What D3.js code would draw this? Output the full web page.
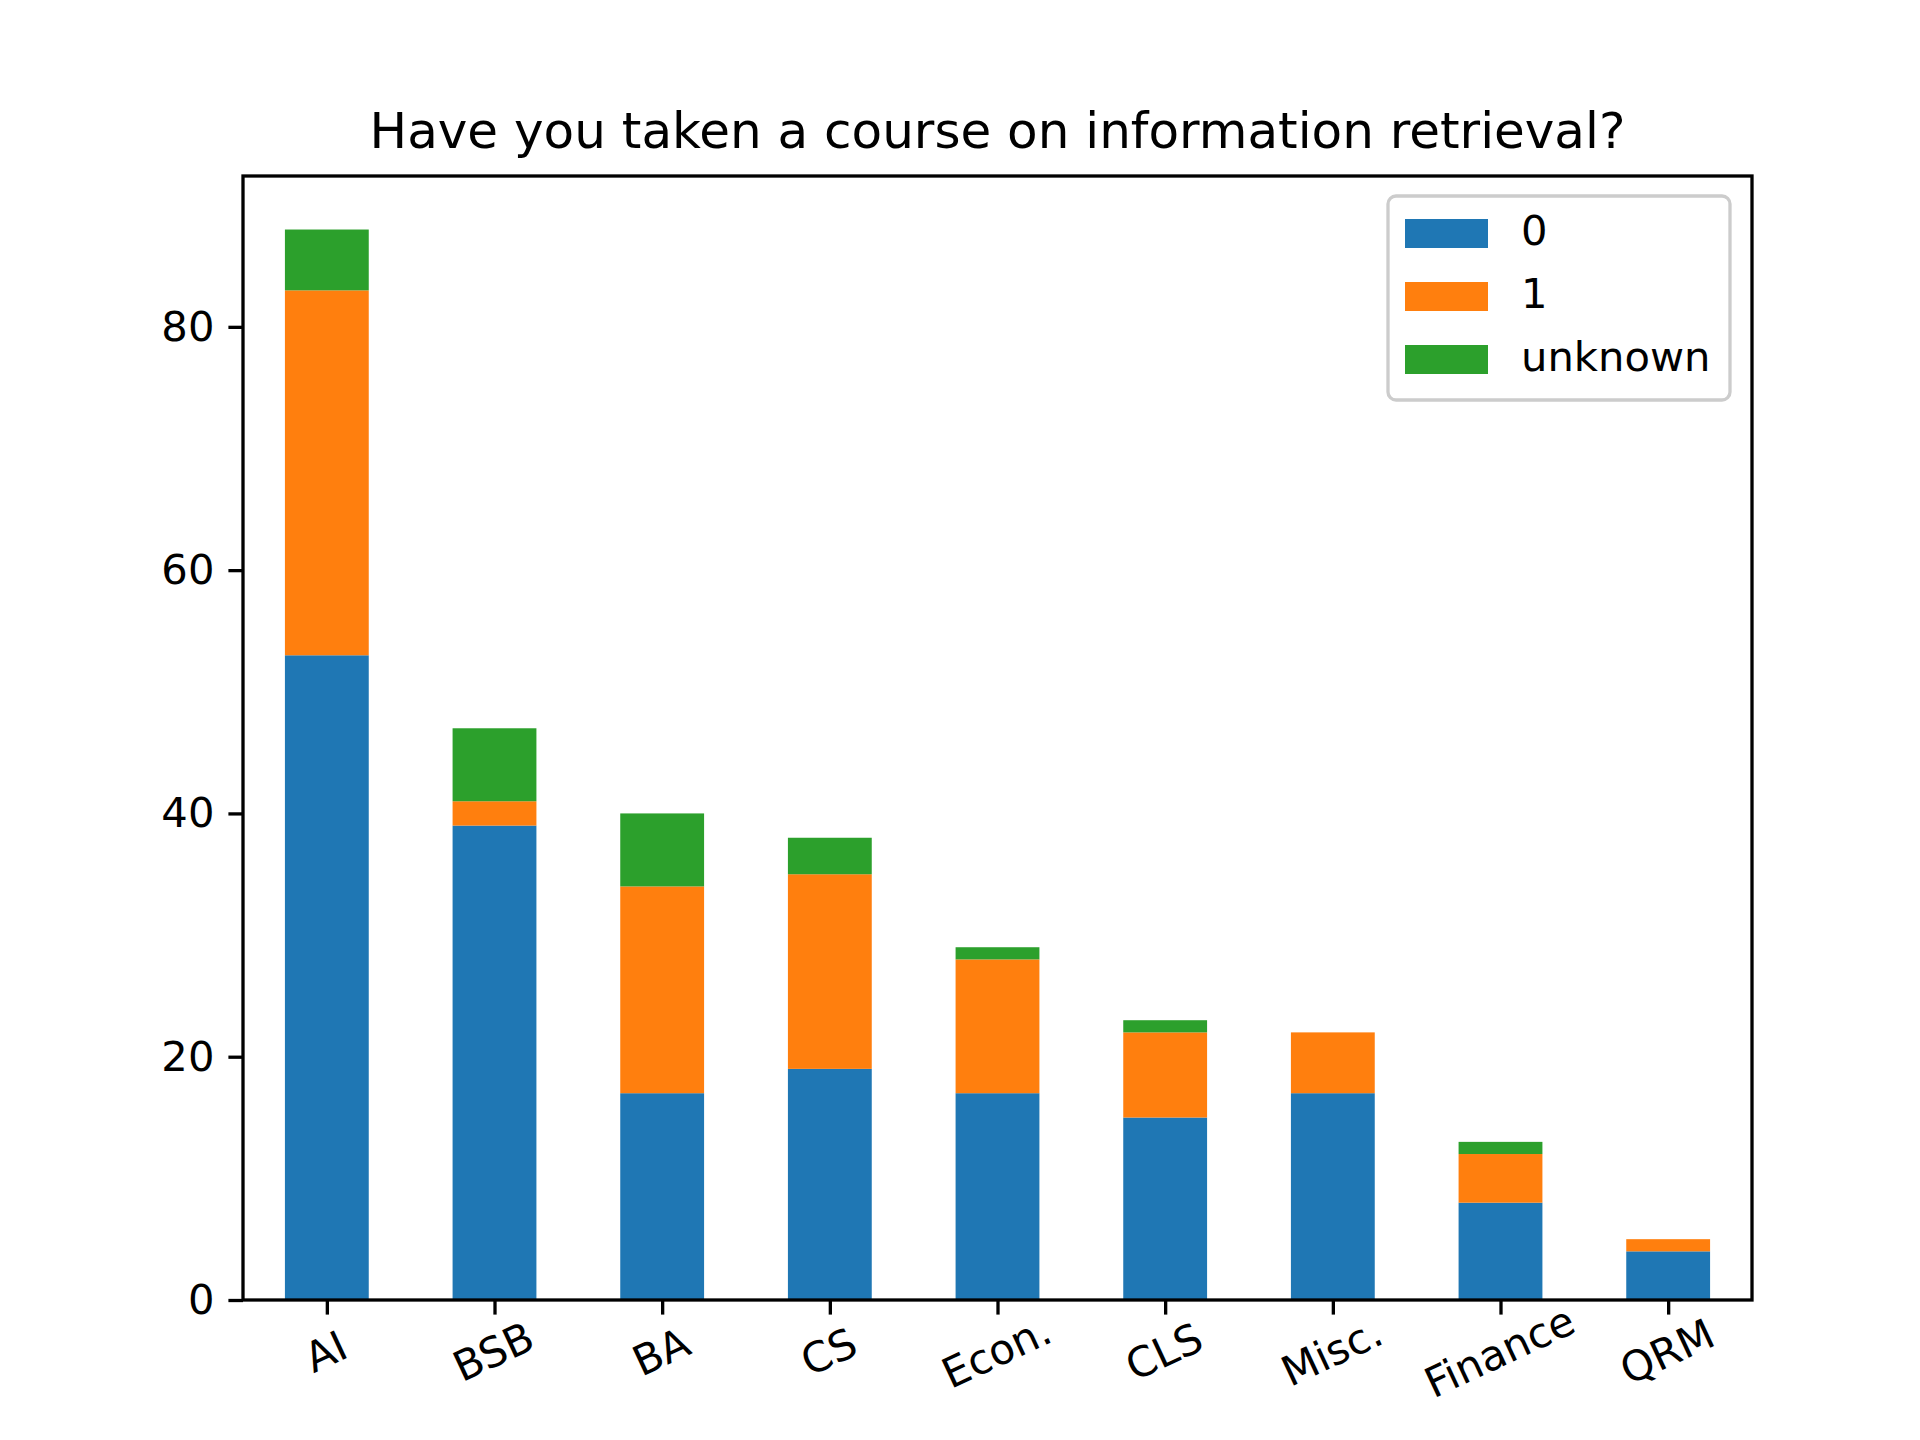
<!DOCTYPE html>
<html><head><meta charset="utf-8">
<script src="https://cdn.jsdelivr.net/npm/d3@7"></script>
<style>body{margin:0;background:#fff}text{font-family:"DejaVu Sans",sans-serif}</style>
</head><body><svg id="chart"></svg>
<script>
// Data
const categories = ["AI", "BSB", "BA", "CS", "Econ.", "CLS", "Misc.", "Finance", "QRM"];
const seriesNames = ["0", "1", "unknown"];
const values0 = [53, 39, 17, 19, 17, 15, 17, 8, 4];
const values1 = [30, 2, 17, 16, 11, 7, 5, 4, 1];
const valuesUnknown = [5, 6, 6, 3, 1, 1, 0, 1, 0];
const yTicks = [0, 20, 40, 60, 80];
const colors = ["#1f77b4", "#ff7f0e", "#2ca02c"];

const width = 1920, height = 1440;
const margin = { top: 176, right: 168, bottom: 140, left: 243 };
const svg = d3.select("#chart").attr("width", width).attr("height", height);

const rows = categories.map((c, i) => ({ cat: i, "0": values0[i], "1": values1[i], "unknown": valuesUnknown[i] }));
const stacked = d3.stack().keys(seriesNames)(rows);

const x = d3.scaleLinear().domain([-0.5, 8.5]).range([margin.left, width - margin.right]);
const yMax = d3.max(rows, d => d["0"] + d["1"] + d["unknown"]) * 1.05;
const y = d3.scaleLinear().domain([0, yMax]).range([height - margin.bottom, margin.top]);
const barW = x(0.5) - x(0);

// Bars
svg.selectAll(".series").data(stacked).enter().append("g")
  .attr("fill", (d, i) => colors[i])
  .selectAll("rect").data(d => d).enter().append("rect")
  .attr("x", d => x(d.data.cat) - barW / 2)
  .attr("width", barW)
  .attr("y", d => y(d[1]))
  .attr("height", d => y(d[0]) - y(d[1]));

// Axes
const xAxis = svg.append("g")
  .attr("transform", `translate(0,${height - margin.bottom})`)
  .call(d3.axisBottom(x).tickValues(d3.range(categories.length)).tickFormat(i => categories[i]).tickSize(14.6).tickSizeOuter(0));
xAxis.selectAll("text")
  .style("font-size", "41.7px")
  .attr("text-anchor", "middle")
  .attr("dy", null)
  .attr("y", 0)
  .attr("transform", "translate(0,55) rotate(-25)")
  .attr("dominant-baseline", "middle");

const yAxis = svg.append("g")
  .attr("transform", `translate(${margin.left},0)`)
  .call(d3.axisLeft(y).tickValues(yTicks).tickSize(14.6).tickPadding(14).tickSizeOuter(0));
yAxis.selectAll("text").style("font-size", "41.7px");

svg.selectAll(".domain").remove();
svg.selectAll(".tick line").attr("stroke-width", 3.3);

// Frame
svg.append("rect")
  .attr("x", margin.left).attr("y", margin.top)
  .attr("width", width - margin.left - margin.right)
  .attr("height", height - margin.top - margin.bottom)
  .attr("fill", "none").attr("stroke", "#000").attr("stroke-width", 3.3);

// Title
svg.append("text")
  .attr("x", (margin.left + width - margin.right) / 2)
  .attr("y", margin.top - 28)
  .attr("text-anchor", "middle")
  .style("font-size", "50px")
  .text("Have you taken a course on information retrieval?");

// Legend
const legend = svg.append("g").attr("transform", "translate(1388,196)");
legend.append("rect").attr("width", 342).attr("height", 204).attr("rx", 8)
  .attr("fill", "#fff").attr("fill-opacity", 0.8).attr("stroke", "#ccc").attr("stroke-width", 3.3);
seriesNames.forEach((s, i) => {
  legend.append("rect").attr("x", 17).attr("y", 23 + i * 63).attr("width", 83).attr("height", 29).attr("fill", colors[i]);
  legend.append("text").attr("x", 133).attr("y", 38 + i * 63).attr("dominant-baseline", "middle")
    .style("font-size", "41.7px").text(s);
});
</script></body></html>
